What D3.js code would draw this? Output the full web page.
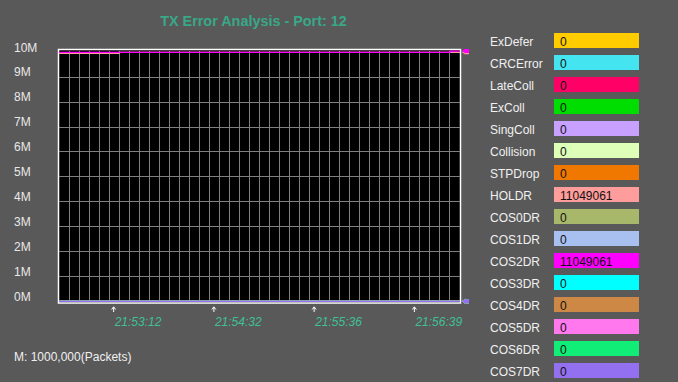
<!DOCTYPE html>
<html><head><meta charset="utf-8">
<script src="https://cdn.jsdelivr.net/npm/d3@7"></script>
<style>html,body{margin:0;padding:0;background:#595959;overflow:hidden}
text{font-family:"Liberation Sans",Arial,sans-serif}</style>
</head><body><svg id="c" width="678" height="382"></svg>
<script>
// ---------- data ----------
const title = "TX Error Analysis - Port: 12";
const unitNote = "M: 1000,000(Packets)";
const seriesNames = ["ExDefer","CRCError","LateColl","ExColl","SingColl","Collision","STPDrop","HOLDR","COS0DR","COS1DR","COS2DR","COS3DR","COS4DR","COS5DR","COS6DR","COS7DR"];
const seriesColors = ["#ffcc00","#44e4f0","#ff0066","#00dd00","#c8a0ff","#ddffb8","#f07800","#ff9c9c","#a8b86a","#a8c0f0","#ff00ff","#00ffff","#cc8844","#ff78ee","#10ee78","#9370f0"];
const legendValues = ["0","0","0","0","0","0","0","11049061","0","0","11049061","0","0","0","0","0"];
const yTickValues = [0,1e6,2e6,3e6,4e6,5e6,6e6,7e6,8e6,9e6,1e7];
const yTickLabels = ["0M","1M","2M","3M","4M","5M","6M","7M","8M","9M","10M"];
const sampleCount = 40;                 // columns of the time grid
const sampleIdx = [0, 6, 39, 40];       // breakpoints where plotted values change
const exDefer   = [0,0,0,0];
const crcError  = [0,0,0,0];
const lateColl  = [0,0,0,0];
const exColl    = [0,0,0,0];
const singColl  = [0,0,0,0];
const collision = [0,0,0,0];
const stpDrop   = [0,0,0,0];
const holdr     = [9.93e6, 9.97e6, 9.97e6, 9.97e6];
const cos0dr    = [0,0,0,0];
const cos1dr    = [0,0,0,0];
const cos2dr    = [9.97e6, 9.97e6, 10.02e6, 10.02e6];
const cos3dr    = [0,0,0,0];
const cos4dr    = [0,0,0,0];
const cos5dr    = [0,0,0,0];
const cos6dr    = [0,0,0,0];
const cos7dr    = [0,0,0,0];
const timeTickCols = [5, 15, 25, 35];
const timeTickLabels = ["21:53:12","21:54:32","21:55:36","21:56:39"];

const seriesValues = [exDefer,crcError,lateColl,exColl,singColl,collision,stpDrop,holdr,cos0dr,cos1dr,cos2dr,cos3dr,cos4dr,cos5dr,cos6dr,cos7dr];
const series = seriesNames.map((n,i)=>({name:n,color:seriesColors[i],value:legendValues[i],
  pts:sampleIdx.map((s,j)=>({s:s,v:seriesValues[i][j]}))}));

// ---------- drawing ----------
const svg = d3.select("#c");
const x = d3.scaleLinear().domain([0, sampleCount]).range([59, 460]);
const y = d3.scaleLinear().domain([0, 1e7]).range([301.3, 51.6]);

svg.append("text").attr("x",253.5).attr("y",26).attr("text-anchor","middle")
  .attr("font-weight","bold").attr("font-size","14.4px").attr("fill","#38a888").text(title);

// plot background
svg.append("rect").attr("x",58.5).attr("y",49.5).attr("width",402).attr("height",253.5)
  .attr("fill","#000").attr("stroke","#fff").attr("stroke-width",1.5);

// vertical grid
const g = svg.append("g").attr("shape-rendering","crispEdges");
g.selectAll("line.v").data(d3.range(1, sampleCount)).join("line").attr("class","v")
  .attr("x1",d=>x(d)).attr("x2",d=>x(d)).attr("y1",50.5).attr("y2",301.5)
  .attr("stroke","#808080").attr("stroke-width",1);

// y axis with grid lines
const yAxis = d3.axisLeft(y).tickValues(yTickValues).tickFormat((d,i)=>yTickLabels[i]).tickSize(-401).tickPadding(0);
const ya = svg.append("g").attr("transform","translate(59,0)").call(yAxis);
ya.select(".domain").remove();
ya.selectAll(".tick line").attr("stroke","#808080").attr("shape-rendering","crispEdges");
ya.selectAll(".tick text").attr("x",14-59).attr("dy","-0.6").attr("text-anchor","start")
  .attr("font-size","12px").attr("fill","#e8e8e8").style("font-family",'"Liberation Sans",Arial,sans-serif')
  .attr("dominant-baseline","auto").attr("y",0);

// lines
const line = d3.line().x(d=>x(d.s)).y(d=>y(d.v)).curve(d3.curveStepAfter);
svg.append("g").selectAll("path").data(series).join("path")
  .attr("d",d=>line(d.pts)).attr("fill","none").attr("stroke",d=>d.color).attr("stroke-width",1.3);

// end markers
svg.append("g").selectAll("path").data(series).join("path")
  .attr("transform",d=>`translate(462,${y(d.pts[d.pts.length-1].v)})`)
  .attr("d","M0,0 L3.5,-2.5 L3.5,-2 L7,-2 L7,2 L3.5,2 L3.5,2.5 Z")
  .attr("fill",d=>d.color);

// time ticks
const colW = x(1)-x(0);
const tg = svg.append("g").selectAll("g").data(timeTickCols).join("g")
  .attr("transform",d=>`translate(${x(d)+colW*0.45},0)`);
tg.append("path").attr("d","M0,312 L0,307 M-2,309.5 L0,306.8 L2,309.5").attr("stroke","#fff").attr("fill","none").attr("stroke-width",1);
tg.append("text").attr("x",1).attr("y",326).attr("font-size","12px").attr("font-style","italic")
  .attr("fill","#40c098").text((d,i)=>timeTickLabels[i]);

// unit note
svg.append("text").attr("x",14).attr("y",361).attr("font-size","12px").attr("fill","#f0f0f0").text(unitNote);

// legend
const lg = svg.append("g").selectAll("g").data(series).join("g")
  .attr("transform",(d,i)=>`translate(0,${33+22*i})`);
lg.append("text").attr("x",490).attr("y",13).attr("font-size","12px").attr("fill","#f0f0f0").text(d=>d.name);
lg.append("rect").attr("x",554).attr("y",0).attr("width",85).attr("height",15).attr("fill",d=>d.color);
lg.append("text").attr("x",560).attr("y",13).attr("font-size","12px").attr("fill","#111").text(d=>d.value);
</script></body></html>
